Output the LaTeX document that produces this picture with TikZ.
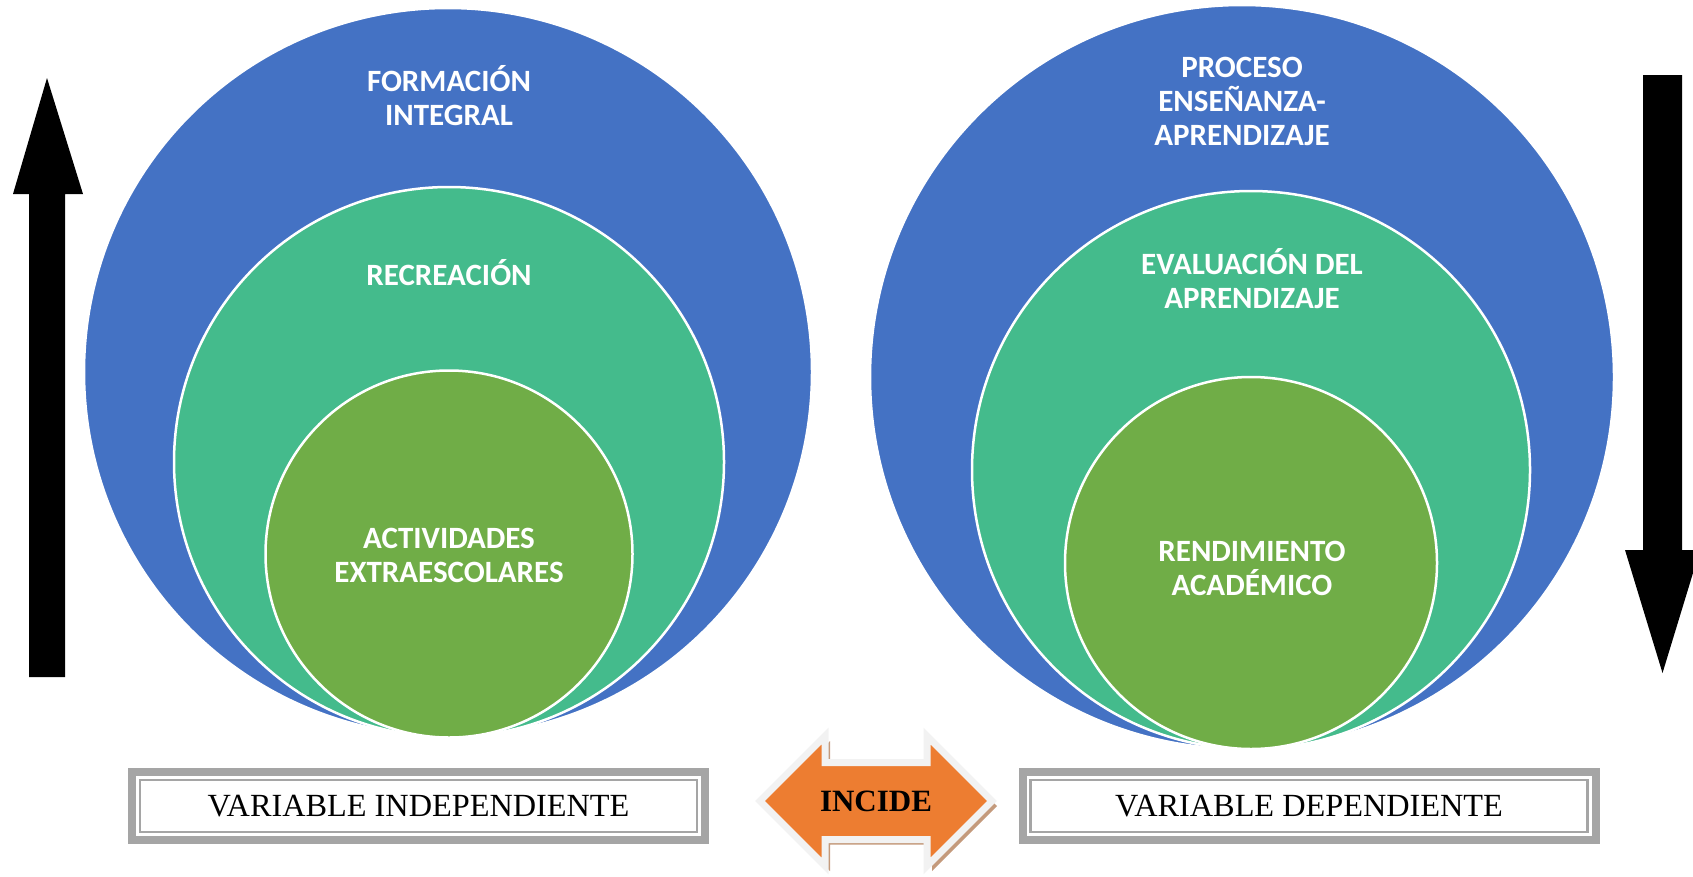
\documentclass[tikz,border=0pt]{standalone}
\usepackage{fontspec}
\setmainfont{Liberation Serif}
\newfontfamily\calibri{Carlito}
\usetikzlibrary{positioning, shapes.arrows, shadows}
\definecolor{ringblue}{RGB}{68,114,196}
\definecolor{ringteal}{RGB}{68,187,140}
\definecolor{ringgreen}{RGB}{112,173,71}
\definecolor{framegray}{RGB}{165,165,165}
\definecolor{incideorange}{RGB}{237,125,49}
\definecolor{incideedge}{RGB}{242,242,242}
\definecolor{incideshadow}{RGB}{196,154,124}

\tikzset{
	ring/.style={circle, draw=white, line width=2.5pt, inner sep=0pt},
	ringtext/.style={text=white, font=\calibri\bfseries\fontsize{31}{34}\selectfont, align=center},
	varbox/.style={draw=framegray, line width=8pt, fill=white, minimum width=573pt, minimum height=68pt, font=\fontsize{32.3}{36}\selectfont}
}

\begin{document}
\begin{tikzpicture}[x=1pt,y=1pt]
	\useasboundingbox (0,0) rectangle (1693,-876);
	
	%--------------------------------------------------------------------
	\node(formacion) [ring, fill=ringblue, minimum size=728pt] at (448,-372) {};
	\node(recreacion) [ring, fill=ringteal, minimum size=550pt] at (449,-462) {};
	\node(actividades) [ring, fill=ringgreen, minimum size=367pt] at (449,-554) {};
	
	\node(formacionlbl) [ringtext] at (449,-96) {FORMACIÓN\\INTEGRAL};
	\node(recreacionlbl) [ringtext] at (449,-273) {RECREACIÓN};
	\node(actividadeslbl) [ringtext] at (449,-555) {ACTIVIDADES\\EXTRAESCOLARES};
	
	%--------------------------------------------------------------------
	\node(proceso) [ring, fill=ringblue, minimum size=744pt] at (1242,-377) {};
	\node(evaluacion) [ring, fill=ringteal, minimum size=558pt] at (1251,-470) {};
	\node(rendimiento) [ring, fill=ringgreen, minimum size=372pt] at (1251,-563) {};
	
	\node(procesolbl) [ringtext] at (1242,-101) {PROCESO\\ENSEÑANZA-\\APRENDIZAJE};
	\node(evaluacionlbl) [ringtext] at (1252,-279) {EVALUACIÓN DEL\\APRENDIZAJE};
	\node(rendimientolbl) [ringtext] at (1252,-568) {RENDIMIENTO\\ACADÉMICO};
	
	%--------------------------------------------------------------------
	\node(indep) [varbox] at (418.5,-806) {VARIABLE INDEPENDIENTE};
	\draw[framegray, line width=2.5pt] ([shift={(12,-12)}]indep.north west) rectangle ([shift={(-12,12)}]indep.south east);
	
	\node(dep) [varbox] at (1309,-806) {VARIABLE DEPENDIENTE};
	\draw[framegray, line width=2.5pt] ([shift={(12,-12)}]dep.north west) rectangle ([shift={(-12,12)}]dep.south east);
	
	\node(incide) [double arrow, draw=incideedge, line width=7pt, fill=incideorange, minimum height=232pt, double arrow head extend=26.5pt, text height=21.5pt, text depth=0pt, inner ysep=24.25pt, inner xsep=0pt, font=\bfseries\fontsize{31}{34}\selectfont, drop shadow={shadow xshift=5pt, shadow yshift=-5pt, fill=incideshadow, opacity=1}] at (876,-801) {INCIDE};
	
	%--------------------------------------------------------------------
	\fill (29,-677) -- (29,-194) -- (13,-194) -- (47,-78) -- (83,-194) -- (65,-194) -- (65,-677) -- cycle;
	\fill (1643,-75) -- (1643,-550) -- (1625,-550) -- (1662.5,-673) -- (1700,-550) -- (1682,-550) -- (1682,-75) -- cycle;
\end{tikzpicture}
\end{document}
